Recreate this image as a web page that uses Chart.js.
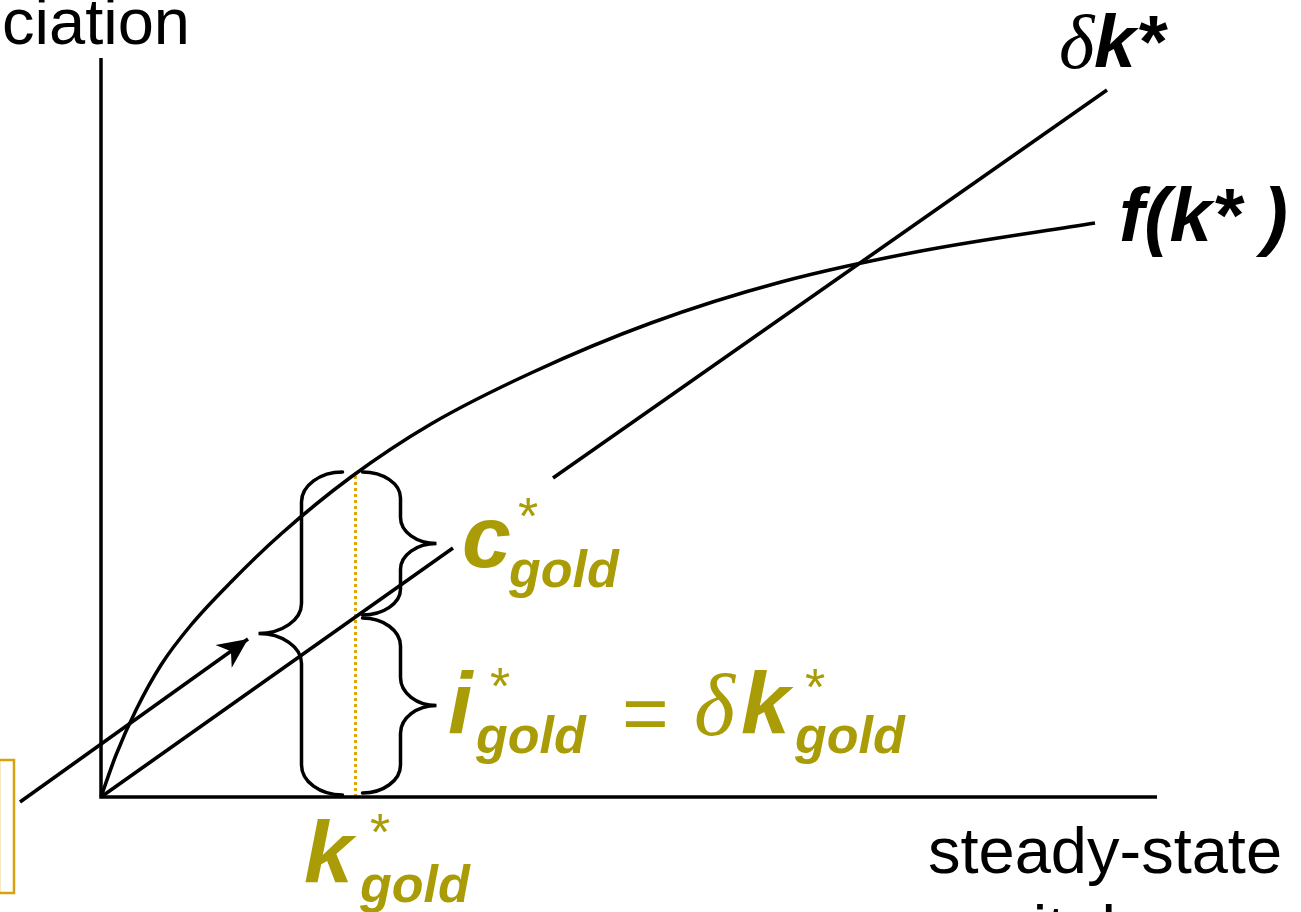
<!DOCTYPE html>
<html>
<head>
<meta charset="utf-8">
<script src="https://cdn.jsdelivr.net/npm/chart.js@4"></script>
<style>
  html, body { margin: 0; padding: 0; background: #fff; }
  #wrap { width: 1301px; height: 912px; position: relative; }
</style>
</head>
<body>
<div id="wrap"><canvas id="golden-rule"></canvas></div>
<script>
// f(k*) curve
const fK = [0, 0.15, 0.35, 0.6, 0.9, 1.3, 1.8, 2.5, 3.3, 4.3, 5.5, 6.8, 8.2, 9.94];
const fY = [0, 0.42, 0.87, 1.32, 1.72, 2.15, 2.63, 3.20, 3.73, 4.24, 4.74, 5.15, 5.46, 5.74];

// δk* line, broken where the c*gold label sits
const depK = [0, 3.52, 4.02, 4.52, 10.06];
const depY = [0, 2.49, null, 3.19, 7.07];

// the arrow on the left
const arrowK = [-0.81, 1.47];
const arrowY = [-0.05, 1.58];

// axes
const axisK = [0, 0, 10.56];
const axisY = [7.39, 0, 0];

// golden rule point
const kGold = 2.545;
const fGold = 3.25;

// brace spans (bottom, top)
const braceAll = [0.02, 3.25];
const braceC = [1.82, 3.25];
const braceI = [0.04, 1.79];

const gold = '#a99c07';
const goldLine = '#d9a90c';
const SANS = '"Liberation Sans", Arial, sans-serif';
const SERIF = '"Liberation Serif", "Times New Roman", serif';
const LW = 3.5;

const pts = (xs, ys) => xs.map((x, i) => ({ x: x, y: ys[i] }));

function brace(ctx, xe, xb, xt, y0, y1, r) {
  const ym = (y0 + y1) / 2, k = 0.55;
  ctx.beginPath();
  ctx.moveTo(xe, y0);
  ctx.bezierCurveTo(xe + (xb - xe) * k, y0, xb, y0 + r * (1 - k), xb, y0 + r);
  ctx.lineTo(xb, ym - r);
  ctx.bezierCurveTo(xb, ym - r * (1 - k), xt + (xb - xt) * k, ym, xt, ym);
  ctx.bezierCurveTo(xt + (xb - xt) * k, ym, xb, ym + r * (1 - k), xb, ym + r);
  ctx.lineTo(xb, y1 - r);
  ctx.bezierCurveTo(xb, y1 - r * (1 - k), xe + (xb - xe) * k, y1, xe, y1);
  ctx.stroke();
}

function txt(ctx, s, x, y, font, color, align) {
  ctx.font = font;
  ctx.fillStyle = color;
  ctx.textAlign = align || 'left';
  ctx.textBaseline = 'alphabetic';
  ctx.fillText(s, x, y);
}

const overlay = {
  id: 'overlay',
  afterDatasetsDraw(chart) {
    const ctx = chart.ctx;
    const xs = chart.scales.x, ys = chart.scales.y;
    ctx.save();

    // braces
    ctx.strokeStyle = '#000';
    ctx.lineWidth = LW;
    ctx.lineCap = 'round';
    const gx = xs.getPixelForValue(kGold);
    brace(ctx, gx - 13, gx - 54, gx - 97, ys.getPixelForValue(braceAll[1]), ys.getPixelForValue(braceAll[0]), 30);
    brace(ctx, gx + 7, gx + 45, gx + 81, ys.getPixelForValue(braceC[1]), ys.getPixelForValue(braceC[0]), 26);
    brace(ctx, gx + 7, gx + 45, gx + 81, ys.getPixelForValue(braceI[1]), ys.getPixelForValue(braceI[0]), 28);

    // arrowhead
    const x0 = xs.getPixelForValue(arrowK[0]), y0 = ys.getPixelForValue(arrowY[0]);
    const x1 = xs.getPixelForValue(arrowK[1]), y1 = ys.getPixelForValue(arrowY[1]);
    const a = Math.atan2(y1 - y0, x1 - x0);
    ctx.translate(x1, y1);
    ctx.rotate(a);
    ctx.fillStyle = '#000';
    ctx.beginPath();
    ctx.moveTo(0, 0);
    ctx.lineTo(-30, -14);
    ctx.lineTo(-21, 0);
    ctx.lineTo(-30, 14);
    ctx.closePath();
    ctx.fill();
    ctx.setTransform(1, 0, 0, 1, 0, 0);

    // cropped box on the left edge
    ctx.strokeStyle = '#d6a20e';
    ctx.lineWidth = 2.5;
    const rx0 = xs.getPixelForValue(-1.02), rx1 = xs.getPixelForValue(-0.87);
    const ry0 = ys.getPixelForValue(0.37), ry1 = ys.getPixelForValue(-0.96);
    ctx.strokeRect(rx0, ry0, rx1 - rx0, ry1 - ry0);

    // axis titles (cropped)
    txt(ctx, 'depreciation', 190, 44, '65px ' + SANS, '#000', 'right');
    txt(ctx, 'steady-state', 928, 873, '65px ' + SANS, '#000');
    txt(ctx, 'capital per', 928, 951, '65px ' + SANS, '#000');

    // curve labels
    txt(ctx, 'δ', 1059, 68, 'italic 76px ' + SERIF, '#000');
    txt(ctx, 'k*', 1094, 67, 'italic bold 75px ' + SANS, '#000');
    txt(ctx, 'f(k* )', 1119, 241, 'italic bold 76px ' + SANS, '#000');

    // c*gold
    txt(ctx, 'c', 462, 567, 'italic bold 88px ' + SANS, gold);
    txt(ctx, '*', 518, 534, '52px ' + SANS, gold);
    txt(ctx, 'gold', 509, 587, 'italic bold 52px ' + SANS, gold);

    // i*gold = δk*gold
    txt(ctx, 'i', 448, 733, 'italic bold 88px ' + SANS, gold);
    txt(ctx, '*', 490, 704, '52px ' + SANS, gold);
    txt(ctx, 'gold', 476, 753, 'italic bold 52px ' + SANS, gold);
    txt(ctx, '=', 622, 740, '80px ' + SANS, gold);
    txt(ctx, 'δ', 694, 735, 'italic 88px ' + SERIF, gold);
    txt(ctx, 'k', 741, 733, 'italic bold 88px ' + SANS, gold);
    txt(ctx, '*', 805, 705, '52px ' + SANS, gold);
    txt(ctx, 'gold', 795, 753, 'italic bold 52px ' + SANS, gold);

    // k*gold
    txt(ctx, 'k', 304, 882, 'italic bold 88px ' + SANS, gold);
    txt(ctx, '*', 370, 850, '52px ' + SANS, gold);
    txt(ctx, 'gold', 360, 902, 'italic bold 52px ' + SANS, gold);

    ctx.restore();
  }
};

new Chart(document.getElementById('golden-rule'), {
  type: 'scatter',
  data: {
    datasets: [
      { label: 'axes', data: pts(axisK, axisY), showLine: true, borderColor: '#000', borderWidth: LW,
        pointRadius: 0, borderJoinStyle: 'miter' },
      { label: 'f(k*)', data: pts(fK, fY), showLine: true, borderColor: '#000', borderWidth: LW,
        pointRadius: 0, cubicInterpolationMode: 'monotone' },
      { label: 'δk*', data: pts(depK, depY), showLine: true, spanGaps: false, borderColor: '#000',
        borderWidth: LW, pointRadius: 0 },
      { label: 'arrow', data: pts(arrowK, arrowY), showLine: true, borderColor: '#000', borderWidth: LW,
        pointRadius: 0 },
      { label: 'k*gold', data: pts([kGold, kGold], [0, fGold]), showLine: true, borderColor: goldLine,
        borderWidth: 3, borderDash: [3, 3], pointRadius: 0 }
    ]
  },
  options: {
    responsive: true,
    maintainAspectRatio: false,
    animation: false,
    events: [],
    layout: { padding: 0 },
    plugins: { legend: { display: false }, tooltip: { enabled: false } },
    scales: {
      x: { type: 'linear', min: -1.01, max: 12.0, display: false },
      y: { type: 'linear', min: -1.15, max: 7.97, display: false }
    }
  },
  plugins: [overlay]
});
</script>
</body>
</html>
